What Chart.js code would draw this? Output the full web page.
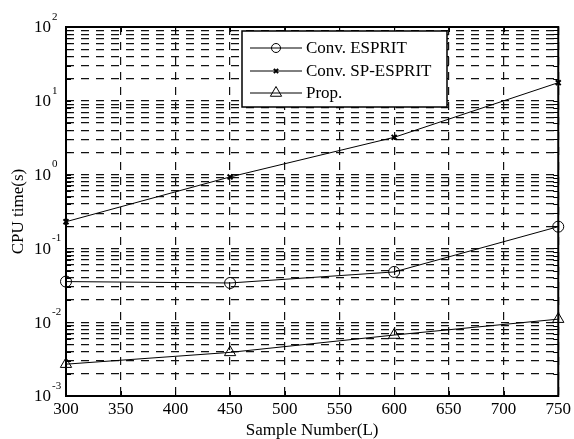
<!DOCTYPE html>
<html>
<head>
<meta charset="utf-8">
<script src="https://cdn.jsdelivr.net/npm/chart.js@4.4.0/dist/chart.umd.min.js"></script>
<style>
  html, body { margin: 0; padding: 0; background: #fff; }
  #wrap { width: 574px; height: 439px; }
</style>
</head>
<body>
<div id="wrap"><canvas id="cpu"></canvas></div>
<script>
// sample numbers on the x axis
const sampleNumbers = [300, 450, 600, 750];
// CPU time (s) per method
const convEsprit = [0.0355, 0.034, 0.048, 0.197];
const convSpEsprit = [0.23, 0.93, 3.2, 17.6];
const proposed = [0.0027, 0.0039, 0.0067, 0.011];

const xTicks = [300, 350, 400, 450, 500, 550, 600, 650, 700, 750];
const yExponents = [-3, -2, -1, 0, 1, 2];
const yMantissas = [1, 2, 3, 4, 5, 6, 7, 8, 9];

const FONT = "'Liberation Serif', 'Times New Roman', serif";

const seriesInfo = [
  { label: "Conv. ESPRIT", values: convEsprit, pointStyle: "circle", radius: 5.5, legendRadius: 4.5, width: 1 },
  { label: "Conv. SP-ESPRIT", values: convSpEsprit, pointStyle: "crossRot", radius: 3.5, legendRadius: 3, width: 2 },
  { label: "Prop.", values: proposed, pointStyle: "triangle", radius: 6.5, legendRadius: 6.5, width: 1 },
];

// tick marks, frame, superscript y labels and legend
const decorations = {
  id: "decorations",
  afterDraw(chart) {
    const { ctx, chartArea: a, scales } = chart;
    const xs = scales.x, ys = scales.y;
    ctx.save();
    ctx.strokeStyle = "#000";
    ctx.lineWidth = 1;
    ctx.beginPath();
    xTicks.forEach(v => {
      const px = Math.round(xs.getPixelForValue(v)) + 0.5;
      ctx.moveTo(px, a.bottom); ctx.lineTo(px, a.bottom - 5);
      ctx.moveTo(px, a.top); ctx.lineTo(px, a.top + 5);
    });
    ys.ticks.forEach(t => {
      const py = Math.round(ys.getPixelForValue(t.value)) + 0.5;
      ctx.moveTo(a.left, py); ctx.lineTo(a.left + 5, py);
      ctx.moveTo(a.right, py); ctx.lineTo(a.right - 5, py);
    });
    ctx.stroke();

    ctx.lineWidth = 2;
    ctx.strokeRect(a.left, a.top, a.right - a.left, a.bottom - a.top);

    // y labels 10^n
    ctx.fillStyle = "#000";
    yExponents.forEach(e => {
      const py = ys.getPixelForValue(Math.pow(10, e));
      ctx.font = "17px " + FONT;
      ctx.textAlign = "right";
      ctx.textBaseline = "middle";
      ctx.fillText("10", a.left - 15, py + 1);
      ctx.font = "11px " + FONT;
      ctx.textAlign = "left";
      ctx.fillText(String(e), a.left - 14, py - 10);
    });

    // legend
    const box = { x: 242, y: 31, w: 205, h: 76 };
    ctx.fillStyle = "#fff";
    ctx.fillRect(box.x, box.y, box.w, box.h);
    ctx.lineWidth = 1.5;
    ctx.strokeStyle = "#000";
    ctx.strokeRect(box.x, box.y, box.w, box.h);
    const rows = [48, 71, 93];
    seriesInfo.forEach((s, i) => {
      const y = rows[i];
      ctx.lineWidth = 1;
      ctx.beginPath();
      ctx.moveTo(250, y); ctx.lineTo(302, y);
      ctx.stroke();
      if (Chart.helpers && Chart.helpers.drawPoint) {
        ctx.fillStyle = "rgba(0,0,0,0)";
        ctx.lineWidth = s.width;
        Chart.helpers.drawPoint(ctx, {
          pointStyle: s.pointStyle, radius: s.legendRadius, borderWidth: s.width, rotation: 0
        }, 276, y);
      }
      ctx.fillStyle = "#000";
      ctx.font = "17px " + FONT;
      ctx.textAlign = "left";
      ctx.textBaseline = "middle";
      ctx.fillText(s.label, 306, y + 1);
    });
    ctx.restore();
  }
};

new Chart(document.getElementById("cpu"), {
  type: "line",
  data: {
    labels: sampleNumbers,
    datasets: seriesInfo.map(s => ({
      label: s.label,
      data: sampleNumbers.map((x, i) => ({ x, y: s.values[i] })),
      borderColor: "#000",
      backgroundColor: "transparent",
      borderWidth: 1,
      pointStyle: s.pointStyle,
      pointRadius: s.radius,
      pointBorderWidth: s.width,
      pointBorderColor: "#000",
      pointBackgroundColor: "transparent",
      tension: 0,
      clip: false,
    })),
  },
  options: {
    responsive: true,
    maintainAspectRatio: false,
    animation: false,
    layout: { padding: { left: 0, top: 27, right: 15, bottom: 0 } },
    plugins: { legend: { display: false }, tooltip: { enabled: false } },
    scales: {
      x: {
        type: "linear",
        min: 300,
        max: 750,
        afterBuildTicks: (scale) => { scale.ticks = xTicks.map(v => ({ value: v })); },
        afterFit: (scale) => { scale.height = 43; },
        ticks: { color: "#000", font: { family: FONT, size: 17 }, padding: 3, maxRotation: 0 },
        grid: { color: "#111", lineWidth: 1.2, drawTicks: false },
        border: { display: false, dash: [8, 7] },
        title: {
          display: true,
          text: "Sample Number(L)",
          color: "#000",
          font: { family: FONT, size: 17, lineHeight: 1 },
          padding: { top: 2, bottom: 0 },
        },
      },
      y: {
        type: "logarithmic",
        min: 0.001,
        max: 100,
        afterBuildTicks: (scale) => {
          const t = [];
          yExponents.forEach(e => {
            yMantissas.forEach(m => {
              const v = m * Math.pow(10, e);
              if (v <= 100) t.push({ value: v });
            });
          });
          scale.ticks = t;
        },
        afterFit: (scale) => { scale.width = 66; },
        ticks: { display: false },
        grid: { color: "#111", lineWidth: 1.2, drawTicks: false },
        border: { display: false, dash: [8, 7] },
        title: {
          display: true,
          text: "CPU time(s)",
          color: "#000",
          font: { family: FONT, size: 17 },
          padding: { top: 8, bottom: 0 },
        },
      },
    },
  },
  plugins: [decorations],
});
</script>
</body>
</html>
